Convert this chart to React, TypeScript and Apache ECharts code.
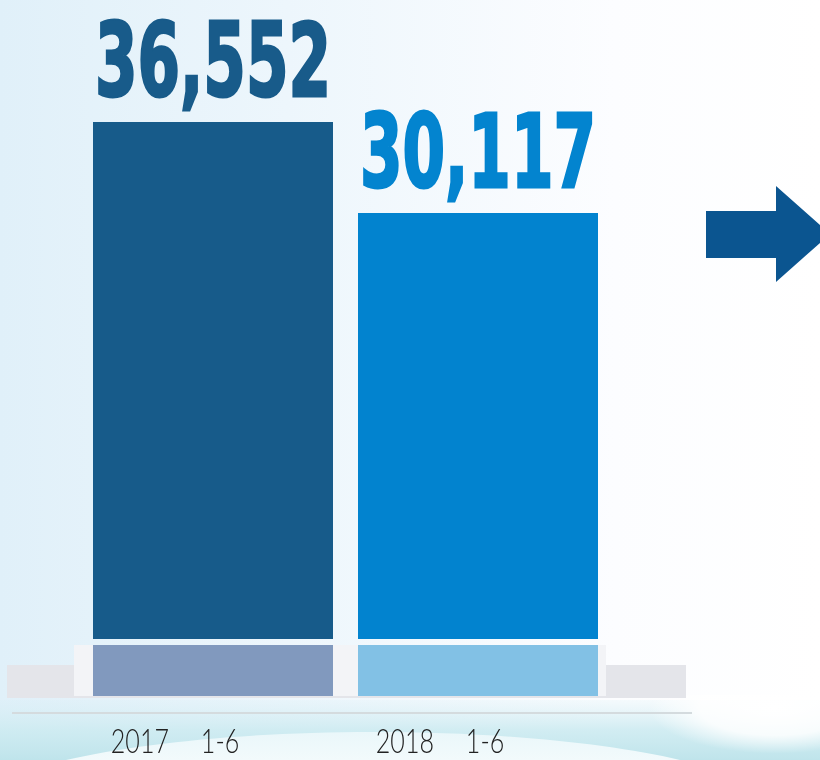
import React, { useEffect, useRef } from "react";
import * as echarts from "echarts";

const categories = ["2017\u00a0\u30001-6", "2018\u00a0\u30001-6"];
const values = [36552, 30117];
const baseValues = [1, 1];

const mainColors = ["#175b8a", "#0283cf"];
const baseColors = ["#8199be", "#82c1e5"];
const labelColors = ["#185b8a", "#0384cf"];

export default function App() {
  const ref = useRef<HTMLDivElement>(null);
  useEffect(() => {
    const chart = echarts.init(ref.current as HTMLDivElement, null, { renderer: "svg" });
    const option: any = {
      animation: false,
      grid: [
        { left: 80.5, top: 73.2, width: 530, height: 565.8, outerBoundsMode: "none" },
        { left: 80.5, top: 645, width: 530, height: 51, outerBoundsMode: "none" },
      ],
      xAxis: [
        { type: "category", gridIndex: 0, data: categories, show: false },
        { type: "category", gridIndex: 1, data: categories, show: false },
      ],
      yAxis: [
        { type: "value", gridIndex: 0, min: 0, max: 40000, show: false },
        { type: "value", gridIndex: 1, min: 0, max: 1, show: false },
      ],
      graphic: [
        {
          type: "rect",
          z: -20,
          silent: true,
          shape: { x: 0, y: 0, width: 820, height: 760 },
          style: {
            fill: new echarts.graphic.LinearGradient(0, 0, 1, 0, [
              { offset: 0, color: "#e0f0f9" },
              { offset: 0.35, color: "#edf6fc" },
              { offset: 0.75, color: "#fcfdff" },
              { offset: 1, color: "#ffffff" },
            ]),
          },
        },
        {
          type: "rect",
          z: -19,
          silent: true,
          shape: { x: 0, y: 700, width: 820, height: 60 },
          style: {
            fill: new echarts.graphic.LinearGradient(0, 0, 0, 1, [
              { offset: 0, color: "rgba(214,238,244,0.2)" },
              { offset: 0.5, color: "rgba(205,235,241,0.9)" },
              { offset: 1, color: "#bfe4eb" },
            ]),
          },
        },
        {
          type: "rect",
          z: -18,
          silent: true,
          shape: { x: 640, y: 695, width: 180, height: 65 },
          style: {
            fill: new echarts.graphic.RadialGradient(0.75, 0.2, 0.7, [
              { offset: 0, color: "rgba(255,255,255,1)" },
              { offset: 0.6, color: "rgba(255,255,255,0.85)" },
              { offset: 1, color: "rgba(255,255,255,0)" },
            ]),
          },
        },
        {
          type: "ellipse",
          z: -17,
          silent: true,
          shape: { cx: 373, cy: 810, rx: 400, ry: 78 },
          style: {
            fill: new echarts.graphic.LinearGradient(0, 0, 0, 1, [
              { offset: 0, color: "#eaf7fa" },
              { offset: 0.3, color: "#f8fcfd" },
              { offset: 1, color: "#ffffff" },
            ]),
          },
        },
        {
          type: "rect",
          z: 0,
          silent: true,
          shape: { x: 7, y: 665, width: 679, height: 33 },
          style: { fill: "#e4e5ea" },
        },
        {
          type: "rect",
          z: 0,
          silent: true,
          shape: { x: 74, y: 645, width: 532, height: 51 },
          style: { fill: "#f3f4f7" },
        },
        {
          type: "line",
          z: 0,
          silent: true,
          shape: { x1: 12, y1: 713, x2: 692, y2: 713 },
          style: { stroke: "#d4dbde", lineWidth: 2 },
        },
        {
          type: "polygon",
          z: 3,
          silent: true,
          shape: {
            points: [
              [706, 211],
              [776, 211],
              [776, 186],
              [830, 234],
              [776, 282],
              [776, 258],
              [706, 258],
            ],
          },
          style: { fill: "#0b5590" },
        },
      ],
      series: [
        {
          type: "bar",
          xAxisIndex: 0,
          yAxisIndex: 0,
          barWidth: 240,
          data: values.map((v, i) => ({ value: v, itemStyle: { color: mainColors[i] } })),
        },
        {
          type: "bar",
          xAxisIndex: 1,
          yAxisIndex: 1,
          barWidth: 240,
          data: baseValues.map((v, i) => ({ value: v, itemStyle: { color: baseColors[i] } })),
        },
        {
          type: "custom",
          xAxisIndex: 0,
          yAxisIndex: 0,
          z: 5,
          data: values.map((v, i) => [i, v]),
          renderItem: (params: any, api: any) => {
            const idx = params.dataIndex;
            const p = api.coord([api.value(0), api.value(1)]);
            return {
              type: "text",
              x: p[0],
              y: p[1] - 61,
              scaleX: 0.6,
              style: {
                text: values[idx].toLocaleString("en-US"),
                fill: labelColors[idx],
                stroke: labelColors[idx],
                lineWidth: 3,
                font: 'bold 102px "DejaVu Sans"',
                lineHeight: 80,
                align: "center",
                verticalAlign: "middle",
              },
            };
          },
        },
        {
          type: "custom",
          xAxisIndex: 1,
          yAxisIndex: 1,
          z: 5,
          data: categories.map((c, i) => [i, 0]),
          renderItem: (params: any, api: any) => {
            const idx = params.dataIndex;
            const p = api.coord([api.value(0), 0]);
            return {
              type: "text",
              x: p[0] - 38,
              y: p[1] + 44,
              scaleX: 0.76,
              style: {
                text: categories[idx],
                fill: "#222222",
                font: '300 33px Lato, "Noto Sans CJK SC"',
                align: "center",
                verticalAlign: "middle",
              },
            };
          },
        },
      ],
    };
    chart.setOption(option);
    return () => chart.dispose();
  }, []);
  return (
    <div
      ref={ref}
      style={{ position: "fixed", left: 0, top: 0, width: 820, height: 760 }}
    />
  );
}
